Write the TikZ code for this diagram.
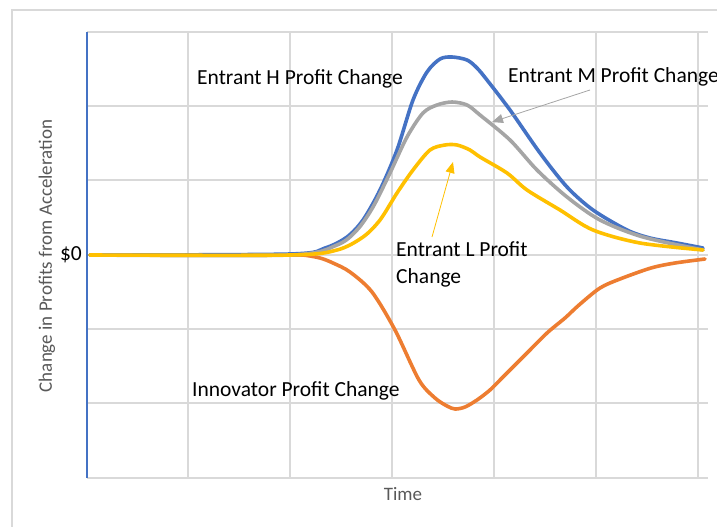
\documentclass[tikz,border=0pt]{standalone}
\usepackage{fontspec}
\setmainfont{Carlito}
\usetikzlibrary{arrows.meta}

\definecolor{gridgray}{HTML}{D9D9D9}
\definecolor{titlegray}{HTML}{595959}
\definecolor{hblue}{HTML}{4472C4}
\definecolor{innorange}{HTML}{ED7D31}
\definecolor{mgray}{HTML}{A5A5A5}
\definecolor{lyellow}{HTML}{FFC000}

\begin{document}
\begin{tikzpicture}[x=1pt,y=-1pt,
    gridline/.style={draw=gridgray,line width=1.2pt},
    curve/.style={line width=3.6pt,line join=round,line cap=round},
    lbl/.style={font=\fontsize{21.5}{27}\selectfont,inner sep=0pt},
    axtitle/.style={font=\fontsize{19}{23}\selectfont,text=titlegray,inner sep=0pt}]
    \useasboundingbox (0,0) rectangle (717,527);
    \begin{scope}
    \clip (0,0) rectangle (717,527);
    \draw[gridline] (12,10) rectangle (760,570);
    
    % grid
    \draw[gridline] (87,32) -- (708,32);
    \draw[gridline] (87,106) -- (708,106);
    \draw[gridline] (87,180) -- (708,180);
    \draw[gridline] (87,255) -- (708,255);
    \draw[gridline] (87,329) -- (708,329);
    \draw[gridline] (87,403) -- (708,403);
    \draw[gridline] (87,478) -- (708,478);
    \draw[gridline] (188,32) -- (188,478);
    \draw[gridline] (290,32) -- (290,478);
    \draw[gridline] (392,32) -- (392,478);
    \draw[gridline] (494,32) -- (494,478);
    \draw[gridline] (596,32) -- (596,478);
    \draw[gridline] (698,32) -- (698,478);
    \draw[hblue,line width=1.2pt] (87,32) -- (87,478);
    
    % curves
    \draw[curve,innorange] plot[smooth,tension=.5] coordinates {(90,255) (290,255) (303,255) (320,258) (333,263) (350,272) (372,292) (395,330) (419,380) (435,398) (447,406) (455,409) (465,407) (477,400) (490,390) (502,378) (526,354) (547,333) (565,318) (579,305) (600,288) (620,279) (651,268) (675,263) (705,259)};
    \draw[curve,hblue] plot[smooth,tension=.5] coordinates {(90,255) (290,254) (325,248) (347,237) (363,220) (380,190) (397,150) (413,100) (427,72) (440,59) (452,57) (467,60) (477,68) (487,80) (510,110) (540,153) (567,187) (593,210) (627,230) (650,238) (677,243) (703,248)};
    \draw[curve,mgray] plot[smooth,tension=.5] coordinates {(90,255) (290,255) (337,245) (357,230) (373,207) (390,173) (407,137) (423,113) (437,105) (452,102) (467,105) (480,115) (510,140) (537,170) (567,197) (600,220) (643,237) (703,250)};
    \draw[curve,lyellow] plot[smooth,tension=.5] coordinates {(90,255) (290,255) (337,250) (363,237) (380,220) (397,193) (413,170) (430,150) (445,145) (457,145) (470,150) (480,157) (507,173) (527,190) (560,210) (593,230) (640,243) (703,250)};
    
    % labels
    \node[lbl,anchor=west] (hlabel) at (197,79) {Entrant H Profit Change};
    \node[lbl,anchor=west] (mlabel) at (508,77) {Entrant M Profit Change};
    \node[lbl,anchor=north west,align=left] (llabel) at (396,241) {Entrant L Profit\\Change};
    \node[lbl,anchor=west] (ilabel) at (192,391) {Innovator Profit Change};
    \node[lbl,anchor=east] (zero) at (82,255) {\$0};
    \node[axtitle] (xtitle) at (403,494) {Time};
    \node[axtitle,rotate=90] (ytitle) at (47,256) {Change in Profits from Acceleration};
    
    \coordinate (mfrom) at (590,90);
    \coordinate (mtip) at (492,122);
    \coordinate (lfrom) at (432,237);
    \coordinate (ltip) at (453,162);
    \draw[mgray,line width=.8pt,-{Triangle[length=11pt,width=9pt]}] (mfrom) -- (mtip);
    \draw[lyellow,line width=.8pt,-{Triangle[length=11pt,width=9pt]}] (lfrom) -- (ltip);
    \end{scope}
\end{tikzpicture}
\end{document}
